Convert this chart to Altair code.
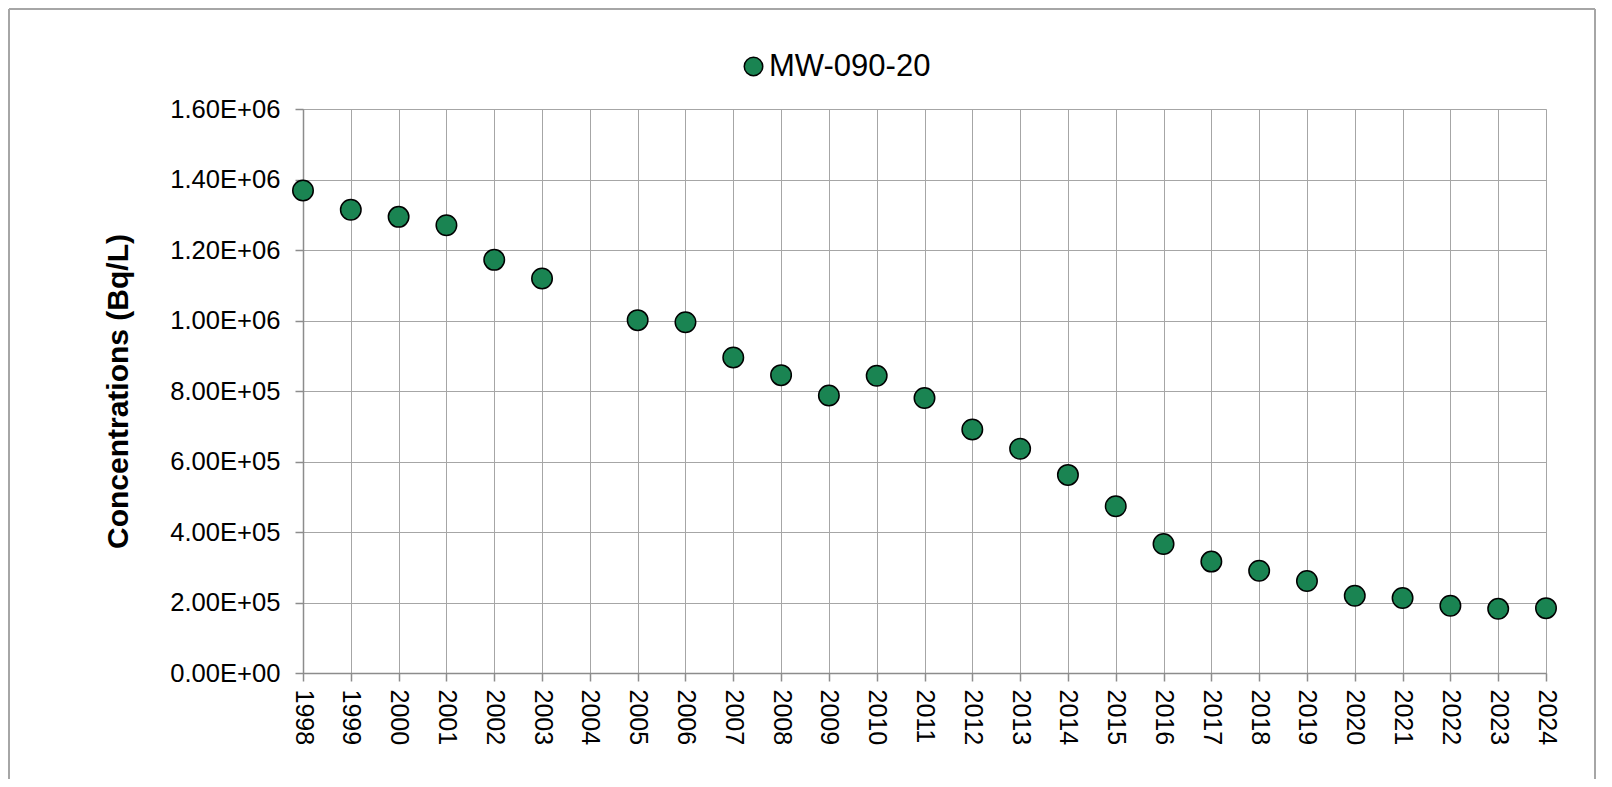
import altair as alt
import pandas as pd

# ---- data ----
years = [1998, 1999, 2000, 2001, 2002, 2003, 2005, 2006, 2007, 2008, 2009,
         2010, 2011, 2012, 2013, 2014, 2015, 2016, 2017, 2018, 2019, 2020,
         2021, 2022, 2023, 2024]
conc = [1.369e6, 1.314e6, 1.294e6, 1.270e6, 1.172e6, 1.119e6, 1.001e6,
        0.995e6, 0.895e6, 0.845e6, 0.787e6, 0.843e6, 0.780e6, 0.691e6,
        0.636e6, 0.562e6, 0.473e6, 0.366e6, 0.316e6, 0.290e6, 0.261e6,
        0.219e6, 0.213e6, 0.191e6, 0.182e6, 0.184e6]
series_name = "MW-090-20"
x_ticks = [1998, 1999, 2000, 2001, 2002, 2003, 2004, 2005, 2006, 2007, 2008,
           2009, 2010, 2011, 2012, 2013, 2014, 2015, 2016, 2017, 2018, 2019,
           2020, 2021, 2022, 2023, 2024]
y_ticks = [0, 2e5, 4e5, 6e5, 8e5, 1.0e6, 1.2e6, 1.4e6, 1.6e6]
y_title = "Concentrations (Bq/L)"

df = pd.DataFrame({"year": years, "conc": conc, "series": [series_name] * len(years)})
one = pd.DataFrame({"k": [0]})

FONT = "Liberation Sans"
GRID = "#a6a6a6"
EDGE = "#8c8c8c"
FRAME = "#a6a6a6"

exp_expr = "floor(log(datum.value) / LN10 + 1e-9)"
y_label_expr = (
    "datum.value == 0 ? '0.00E+00' : "
    f"format(datum.value / pow(10, {exp_expr}), '.2f') + 'E+' + "
    f"({exp_expr} < 10 ? '0' : '') + {exp_expr}"
)

# outer chart frame (left, top, right edges; bottom lies below the page)
frame_left = alt.Chart(one).mark_rule(stroke=FRAME, strokeWidth=2).encode(
    x=alt.value(-294), y=alt.value(-100), y2=alt.value(700))
frame_right = alt.Chart(one).mark_rule(stroke=FRAME, strokeWidth=2).encode(
    x=alt.value(1292), y=alt.value(-100), y2=alt.value(700))
frame_top = alt.Chart(one).mark_rule(stroke=FRAME, strokeWidth=2).encode(
    x=alt.value(-294), x2=alt.value(1292), y=alt.value(-100))

points = alt.Chart(df).mark_circle(
    size=420, opacity=1, stroke="black", strokeWidth=1.5
).encode(
    x=alt.X("year:Q", title=None,
            scale=alt.Scale(domain=[1998, 2024], nice=False, zero=False),
            axis=alt.Axis(values=x_ticks, format="d", labelAngle=90,
                          labelFont=FONT, labelFontSize=25, labelColor="black",
                          labelPadding=8, tickSize=8, tickColor=EDGE,
                          tickWidth=1.5, domainColor=EDGE, domainWidth=1.5,
                          gridColor=GRID, gridWidth=1, labelOverlap=False,
                          labelFlush=False)),
    y=alt.Y("conc:Q",
            scale=alt.Scale(domain=[0, 1.6e6], nice=False),
            axis=alt.Axis(values=y_ticks, labelExpr=y_label_expr,
                          title=y_title, titleFont=FONT, titleFontSize=30,
                          titleFontWeight="bold", titleColor="black",
                          titleAngle=270, titleX=-176, titleY=282,
                          titleAlign="center", titleBaseline="alphabetic",
                          labelFont=FONT, labelFontSize=25.6, labelColor="black",
                          labelPadding=15, tickSize=8, tickColor=EDGE,
                          tickWidth=1.5, domainColor=EDGE, domainWidth=1.5,
                          gridColor=GRID, gridWidth=1, labelOverlap=False,
                          labelFlush=False)),
    fill=alt.Fill("series:N",
                  scale=alt.Scale(domain=[series_name], range=["#1a8452"]),
                  legend=alt.Legend(orient="none", legendX=435, legendY=-58,
                                    title=None, labelFont=FONT,
                                    labelFontSize=31, labelColor="black",
                                    labelLimit=600,
                                    symbolType="circle", symbolSize=342,
                                    symbolStrokeColor="black",
                                    symbolStrokeWidth=1.5, symbolOpacity=1,
                                    labelOffset=0, padding=0)),
)

chart = alt.layer(frame_left, frame_right, frame_top, points).properties(
    width=1243, height=564,
    autosize=alt.AutoSizeParams(type="none"),
    padding={"left": 295, "top": 101, "right": 50, "bottom": 106},
).configure_view(
    stroke=EDGE, strokeWidth=1.5
).configure(background="white")

chart.save("out.html", embed_options={"renderer": "svg", "actions": False})
